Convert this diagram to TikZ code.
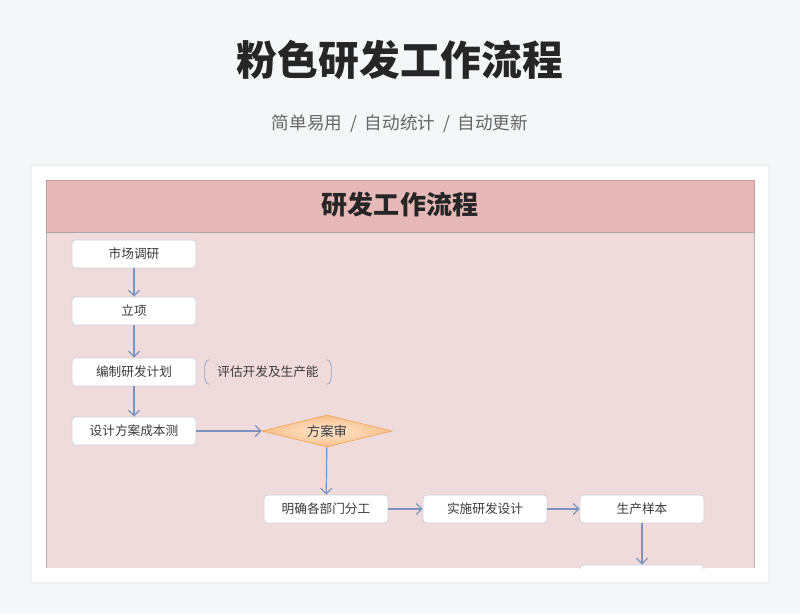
\documentclass[tikz,border=0pt]{standalone}
\usepackage{fontspec}
\newfontfamily\cjk{Noto Sans CJK SC}
\usetikzlibrary{arrows.meta,calc,positioning,shapes.geometric}
\definecolor{pagebg}{HTML}{F5F6F8}
\definecolor{headpink}{HTML}{E6B8B7}
\definecolor{bodypink}{HTML}{F0DBDC}
\definecolor{boxline}{HTML}{CDD0DA}
\definecolor{boxtext}{HTML}{3A3A3A}
\definecolor{arrowblue}{HTML}{7B93BE}
\definecolor{peachin}{HTML}{FFE8D2}
\definecolor{peachout}{HTML}{F8BE88}
\definecolor{peachline}{HTML}{EFA660}

\begin{document}
\begin{tikzpicture}[x=0.025cm, y=-0.025cm,
  stage/.style={draw=boxline, fill=white, rounded corners=2.5pt, line width=0.5pt,
    minimum width=3.1cm, minimum height=0.7cm, inner sep=0pt,
    text=boxtext, font=\cjk\fontsize{9}{11}\selectfont},
  check/.style={diamond, aspect=4, draw=peachline, line width=0.5pt,
    inner color=peachin, outer color=peachout,
    minimum width=3.25cm, minimum height=0.8cm, inner sep=0pt,
    text=boxtext, font=\cjk\fontsize{9.5}{11}\selectfont},
  flow/.style={draw=arrowblue, line width=0.85pt, -{Straight Barb[length=4pt,width=8pt]}}]

\useasboundingbox (0,0) rectangle (800,613);
\fill[pagebg] (0,0) rectangle (800,613);

% headline above the card
\node[font=\cjk\bfseries\fontsize{29}{32}\selectfont, text=black!85] (headline) at (400,60) {粉色研发工作流程};
\node[font=\cjk\fontsize{12.5}{14}\selectfont, text=black!60] (tagline) at (400,124) {简单易用\ \ /\ \ 自动统计\ \ /\ \ 自动更新};

% card, header band and body
\fill[black!6] (30,164) rectangle (770,584);
\fill[white] (32,166) rectangle (768,582);
\draw[headpink!85!black, fill=headpink, line width=0.4pt] (46,180) rectangle (754,232);
\node[font=\cjk\bfseries\fontsize{18.5}{20}\selectfont, text=black!85] (sheet) at (400,205) {研发工作流程};
\fill[bodypink] (46,232) rectangle (754,568);
\draw[black!30, line width=0.4pt] (46,232) -- (46,568) (754,232) -- (754,568);
\draw[black!35, line width=0.5pt] (46,232) -- (754,232);

\begin{scope}
\clip (46,232) rectangle (754,568);
\node[stage] (survey) at (134,254) {市场调研};
\node[stage] (setup) at (134,311) {立项};
\node[stage] (plan) at (134,372) {编制研发计划};
\node[stage] (cost) at (134,431) {设计方案成本测};
\node[check] (review) at (327,431) {方案审};
\node[stage] (assign) at (326,509) {明确各部门分工};
\node[stage] (design) at (485,509) {实施研发设计};
\node[stage] (sample) at (642,509) {生产样本};
\node[stage] (next) at (642,579) {};

% side note in brackets
\node[text=boxtext, font=\cjk\fontsize{9}{11}\selectfont, minimum width=3.2cm, minimum height=0.6cm] (note) at (268,372) {评估开发及生产能};
\draw[arrowblue!80, line width=0.6pt] ($(note.north west)+(6,0)$) to[out=180,in=90] ($(note.west)+(1,-6)$) -- ($(note.west)+(1,6)$) to[out=-90,in=180] ($(note.south west)+(6,0)$);
\draw[arrowblue!80, line width=0.6pt] ($(note.north east)+(-6,0)$) to[out=0,in=90] ($(note.east)+(-1,-6)$) -- ($(note.east)+(-1,6)$) to[out=-90,in=0] ($(note.south east)+(-6,0)$);

% connectors
\draw[flow] (survey) -- (setup);
\draw[flow] (setup) -- (plan);
\draw[flow] (plan) -- (cost);
\draw[flow] (cost) -- (review);
\draw[flow] (review) -- (assign);
\draw[flow] (assign) -- (design);
\draw[flow] (design) -- (sample);
\draw[flow] (sample) -- (next);
\end{scope}

\end{tikzpicture}
\end{document}
